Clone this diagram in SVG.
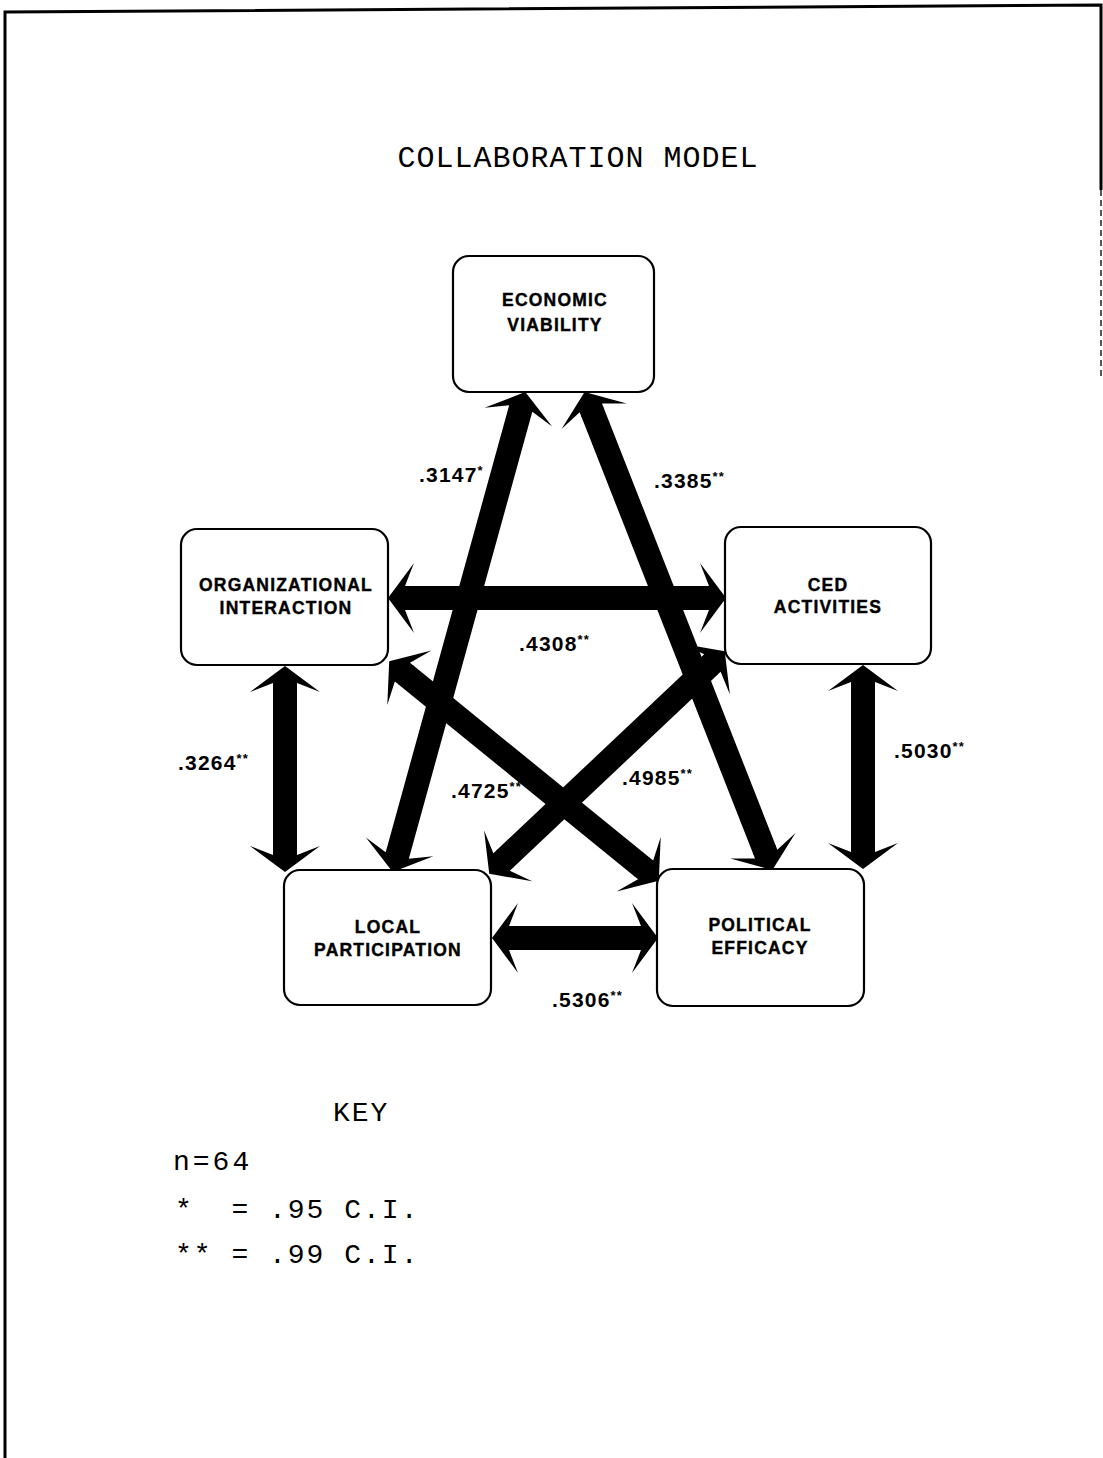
<svg xmlns="http://www.w3.org/2000/svg" width="1103" height="1458" viewBox="0 0 1103 1458">
<style>
.node rect{fill:#fff;stroke:#000;stroke-width:2.2}
.nt{font-family:"Liberation Sans",Arial,sans-serif;font-weight:bold;font-size:17.5px;letter-spacing:1.2px;text-anchor:middle;fill:#000;stroke:#000;stroke-width:0.4}
.lbl{font-family:"Liberation Sans",Arial,sans-serif;font-weight:bold;font-size:21px;letter-spacing:1.2px;fill:#000}
.sup{font-size:13px}
.shaft{stroke:#000;stroke-width:24;fill:none;marker-start:url(#head);marker-end:url(#head)}
.mono{font-family:"Liberation Mono","Courier New",monospace;fill:#000;white-space:pre}
</style>
<defs>
<marker id="head" markerUnits="userSpaceOnUse" orient="auto-start-reverse" markerWidth="90" markerHeight="90" refX="0" refY="0" overflow="visible" viewBox="-45 -45 90 90">
<path d="M21,0 L-5,-35 L4,-12 L-1,-12 L-1,12 L4,12 L-5,35 Z" fill="#000"/>
</marker>
</defs>
<rect width="1103" height="1458" fill="#fff"/>
<g id="border" fill="none" stroke="#000" stroke-width="3">
<polyline points="5,1458 5,12 1101,5 1101,190"/>
<line x1="1101" y1="190" x2="1101" y2="380" stroke="#555" stroke-width="2" stroke-dasharray="6 4"/>
</g>
<text class="mono" x="578" y="167" font-size="30" letter-spacing="1" text-anchor="middle">COLLABORATION MODEL</text>
<g id="connectors">
<text class="lbl" x="419" y="482">.3147<tspan class="sup" dy="-7">*</tspan></text>
<text class="lbl" x="654" y="488">.3385<tspan class="sup" dy="-7">**</tspan></text>
<text class="lbl" x="519" y="651">.4308<tspan class="sup" dy="-7">**</tspan></text>
<text class="lbl" x="178" y="770">.3264<tspan class="sup" dy="-7">**</tspan></text>
<text class="lbl" x="451" y="798">.4725<tspan class="sup" dy="-7">**</tspan></text>
<text class="lbl" x="622" y="785">.4985<tspan class="sup" dy="-7">**</tspan></text>
<text class="lbl" x="894" y="758">.5030<tspan class="sup" dy="-7">**</tspan></text>
<text class="lbl" x="552" y="1007">.5306<tspan class="sup" dy="-7">**</tspan></text>
<line class="shaft" x1="519.7" y1="412.3" x2="398.3" y2="851.7"/>
<line class="shaft" x1="592.3" y1="411.6" x2="764.7" y2="850.4"/>
<line class="shaft" x1="409" y1="598" x2="705" y2="598" stroke-width="26"/>
<line class="shaft" x1="285" y1="687" x2="285" y2="851"/>
<line class="shaft" x1="863" y1="686" x2="863" y2="848"/>
<line class="shaft" x1="513" y1="938" x2="637" y2="938" stroke-width="27"/>
<line class="shaft" x1="405.5" y1="674.6" x2="642.5" y2="867.4"/>
<line class="shaft" x1="504.5" y1="859.3" x2="709.5" y2="665.7"/>
</g>
<g id="economic-viability" class="node">
<rect x="453" y="256" width="201" height="136" rx="16"/>
<text class="nt" x="555" y="306">ECONOMIC</text>
<text class="nt" x="555" y="331">VIABILITY</text>
</g>
<g id="organizational-interaction" class="node">
<rect x="181" y="529" width="207" height="136" rx="16"/>
<text class="nt" x="286" y="591">ORGANIZATIONAL</text>
<text class="nt" x="286" y="614">INTERACTION</text>
</g>
<g id="ced-activities" class="node">
<rect x="725" y="527" width="206" height="137" rx="16"/>
<text class="nt" x="828" y="591">CED</text>
<text class="nt" x="828" y="613">ACTIVITIES</text>
</g>
<g id="local-participation" class="node">
<rect x="284" y="870" width="207" height="135" rx="16"/>
<text class="nt" x="388" y="933">LOCAL</text>
<text class="nt" x="388" y="956">PARTICIPATION</text>
</g>
<g id="political-efficacy" class="node">
<rect x="657" y="869" width="207" height="137" rx="16"/>
<text class="nt" x="760" y="931">POLITICAL</text>
<text class="nt" x="760" y="954">EFFICACY</text>
</g>
<g id="key">
<text class="mono" x="333" y="1121" font-size="28" letter-spacing="2">KEY</text>
<text class="mono" x="173" y="1170" font-size="28" letter-spacing="3">n=64</text>
<text class="mono" x="175" y="1218" font-size="28" letter-spacing="2">*  = .95 C.I.</text>
<text class="mono" x="175" y="1263" font-size="28" letter-spacing="2">** = .99 C.I.</text>
</g>
</svg>
